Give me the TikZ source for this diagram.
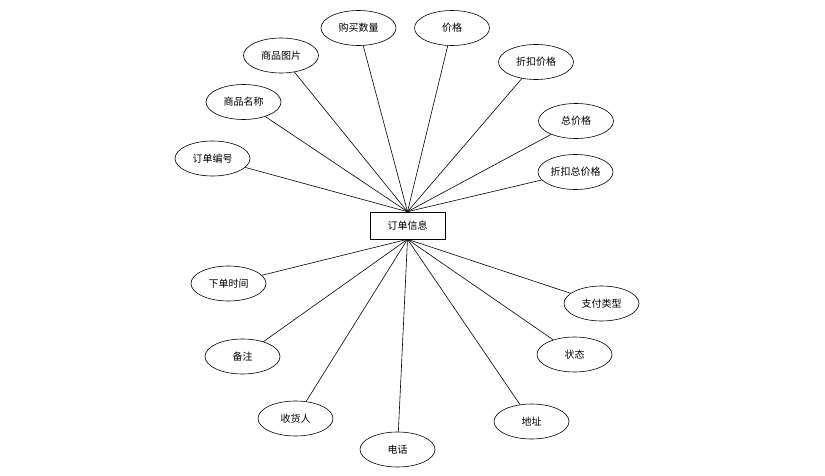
\documentclass[tikz,border=0pt]{standalone}
\usepackage{fontspec}
\usetikzlibrary{shapes.geometric}
\newfontfamily\cjk{Noto Sans CJK SC}

\tikzset{
    attr/.style={draw, ellipse, minimum width=75pt, minimum height=35pt, inner sep=0pt},
    entity/.style={draw, rectangle, minimum width=75pt, minimum height=27pt, inner sep=0pt},
}

\begin{document}
\begin{tikzpicture}[x=1pt, y=-1pt, line width=0.6pt, font=\cjk\fontsize{10}{12}\selectfont]
    \useasboundingbox (0,0) rectangle (825,476);
    % The entity in the middle.
        \node[entity] (info) at (407.5,225.5) {订单信息};
    % Below nodes are the attributes above the entity.
        \node[attr] (bianhao) at (212.5,158.5) {订单编号};
        \node[attr] (mingcheng) at (243.5,102) {商品名称};
        \node[attr] (tupian) at (281,55.5) {商品图片};
        \node[attr] (shuliang) at (358.5,28) {购买数量};
        \node[attr] (jiage) at (452,28) {价格};
        \node[attr] (zhekou) at (536,62) {折扣价格};
        \node[attr] (zongjia) at (576,121) {总价格};
        \node[attr] (zhekouzong) at (575.5,172) {折扣总价格};
    % Below nodes are the attributes under the entity.
        \node[attr] (shijian) at (228.5,283.5) {下单时间};
        \node[attr] (beizhu) at (242.5,356.5) {备注};
        \node[attr] (shouhuo) at (295.5,418.5) {收货人};
        \node[attr] (dianhua) at (397.5,449.5) {电话};
        \node[attr] (dizhi) at (531.5,421.5) {地址};
        \node[attr] (zhuangtai) at (574.5,354.5) {状态};
        \node[attr] (zhifu) at (601.5,303.5) {支付类型};
    % This draws the lines.
        \foreach \a in {bianhao, mingcheng, tupian, shuliang, jiage, zhekou, zongjia, zhekouzong}
            \draw (info.north) -- (\a);
        \foreach \a in {shijian, beizhu, shouhuo, dianhua, dizhi, zhuangtai, zhifu}
            \draw (info.south) -- (\a);
\end{tikzpicture}
\end{document}
